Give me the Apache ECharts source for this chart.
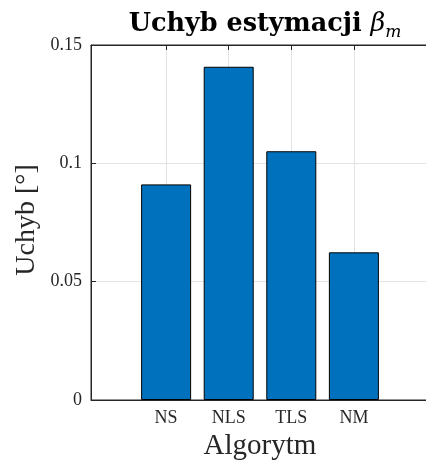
<!DOCTYPE html>
<html>
<head>
<meta charset="utf-8">
<script src="https://cdn.jsdelivr.net/npm/echarts@6/dist/echarts.min.js"></script>
<style>html,body{margin:0;padding:0;background:#fff}#c{width:426px;height:465px}</style>
</head>
<body>
<div id="c"></div>
<script>
const categories = ['NS', 'NLS', 'TLS', 'NM'];
const positions = [1, 2, 3, 4];
const values = [0.0911, 0.1408, 0.1051, 0.0624];
const yTicks = [0, 0.05, 0.1, 0.15];

const FONT = 'Liberation Serif';
const TFONT = 'DejaVu Serif';
const AX = '#262626';
const GRIDC = '#e3e3e3';
const chart = echarts.init(document.getElementById('c'), null, {renderer: 'canvas'});

const xCommon = {
  type: 'value', min: -0.2, max: 5.2,
  axisLine: {show: true, onZero: false, lineStyle: {color: AX, width: 1}},
  axisTick: {show: true, inside: true, length: 5, customValues: positions, lineStyle: {color: AX}},
  splitLine: {show: false}
};

chart.setOption({
  animation: false,
  backgroundColor: '#fff',
  title: {
    text: '{t|Uchyb estymacji }{b|β}{s|m}',
    left: 260, top: 3, textAlign: 'center',
    textStyle: {
      rich: {
        t: {fontFamily: TFONT, fontWeight: 'bold', fontSize: 25.5, color: '#000'},
        b: {fontFamily: TFONT, fontStyle: 'italic', fontWeight: 'normal', fontSize: 25.5, color: '#000'},
        s: {fontFamily: TFONT, fontStyle: 'italic', fontWeight: 'normal', fontSize: 17, color: '#000', padding: [16, 0, 0, 0]}
      }
    }
  },
  grid: {left: 91, top: 45, width: 338, height: 355, outerBoundsMode: 'none', containLabel: false,
    show: true, borderColor: AX, borderWidth: 1},
  xAxis: [
    Object.assign({}, xCommon, {
      position: 'bottom',
      axisLabel: {show: true, customValues: positions, formatter: v => categories[Math.round(v) - 1] || '',
        fontFamily: FONT, fontSize: 18, color: AX, margin: 9},
      splitLine: {show: true, lineStyle: {color: GRIDC, width: 1}},
      name: 'Algorytm', nameLocation: 'middle', nameGap: 32,
      nameTextStyle: {fontFamily: FONT, fontSize: 29, color: AX}
    }),
    Object.assign({}, xCommon, {position: 'top', axisLabel: {show: false}})
  ],
  yAxis: {
    type: 'value', min: 0, max: 0.15, interval: 0.05,
    axisLine: {show: true, onZero: false, lineStyle: {color: AX, width: 1}},
    axisTick: {show: true, inside: true, length: 5, lineStyle: {color: AX}},
    axisLabel: {fontFamily: FONT, fontSize: 18, color: AX, margin: 9},
    splitLine: {show: true, lineStyle: {color: GRIDC, width: 1}}
  },
  graphic: [{
    type: 'text', x: 27, y: 220, rotation: Math.PI / 2,
    style: {text: 'Uchyb [°]', font: '28px "Liberation Serif"', fill: AX, align: 'center', verticalAlign: 'middle'}
  }],
  series: [{
    type: 'bar', xAxisIndex: 0, barWidth: 50,
    data: positions.map((p, i) => [p, values[i]]),
    itemStyle: {color: '#0072BD', borderColor: '#000', borderWidth: 1}
  }]
});
</script>
</body>
</html>
